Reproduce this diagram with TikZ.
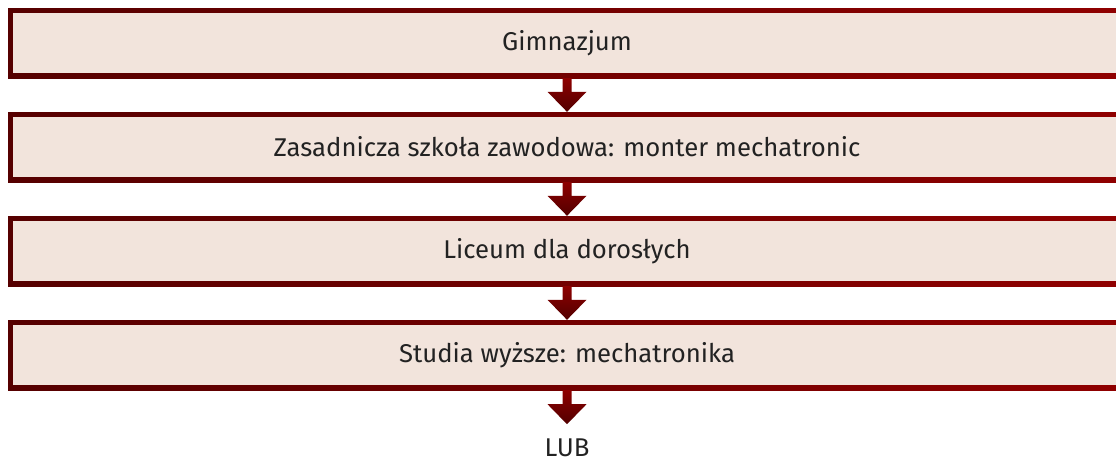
\documentclass[tikz,border=0pt]{standalone}
\usepackage{fontspec}
\setmainfont{Fira Sans}
\usetikzlibrary{calc,positioning}
\definecolor{boxfill}{HTML}{F2E4DC}
\definecolor{bordleft}{HTML}{560000}
\definecolor{bordright}{HTML}{900000}
\definecolor{arrtop}{HTML}{8E0000}
\definecolor{arrbot}{HTML}{520000}
\definecolor{txtcol}{HTML}{222222}

\begin{document}
\begin{tikzpicture}[x=1pt,y=1pt,
    stage/.style={minimum width=1118pt, minimum height=70pt, inner sep=0pt,
        left color=bordleft, right color=bordright,
        path picture={\fill[boxfill] ([shift={(5pt,5pt)}]path picture bounding box.south west) rectangle ([shift={(-5pt,-5pt)}]path picture bounding box.north east);},
        text=txtcol, font=\fontsize{25.7}{30}\selectfont}]
        \useasboundingbox (0,0) rectangle (1116,-459);
        \newcommand{\blockarr}[2]{
            \shade [top color=arrtop, bottom color=arrbot] ($(#1)+(-4.5,0)$) -- ($(#1)+(4.5,0)$) -- ($(#2)+(4.5,20)$) -- ($(#2)+(19.5,20)$) -- (#2) -- ($(#2)+(-19.5,20)$) -- ($(#2)+(-4.5,20)$) -- cycle;
        }
        \foreach \i/\txt in {1/Gimnazjum, 2/{Zasadnicza szkoła zawodowa: monter mechatronic}, 3/{Liceum dla dorosłych}, 4/{Studia wyższe: mechatronika}} {
            \node [stage] (b\i) at (567,{-43-104*(\i-1)}) {\txt};
        }
        \foreach \i [count=\j from 2] in {1,2,3} {
            \blockarr{b\i.south}{b\j.north}
        }
        \coordinate (tip) at ($(b4.south)+(0,-34)$);
        \blockarr{b4.south}{tip}
        \node [anchor=north, inner sep=0pt, text=txtcol, font=\fontsize{25.7}{30}\selectfont] (lub) at ($(tip)+(0,-14)$) {LUB};
    \end{tikzpicture}
\end{document}
